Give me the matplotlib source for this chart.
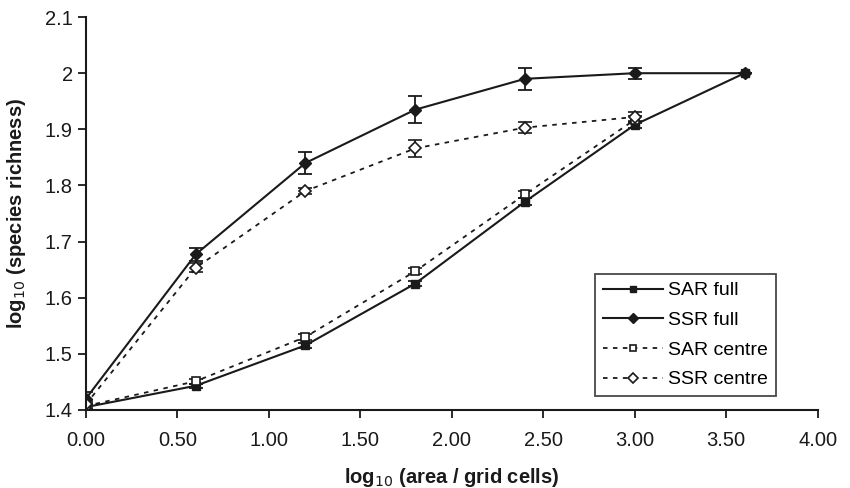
import numpy as np
import matplotlib.pyplot as plt
from matplotlib.ticker import FuncFormatter

plt.rcParams['font.family'] = ['Liberation Sans', 'DejaVu Sans']

# data
x_full = [0.0, 0.6, 1.2, 1.8, 2.4, 3.0, 3.6]
x_centre = [0.0, 0.6, 1.2, 1.8, 2.4, 3.0]

sar_full = [1.405, 1.443, 1.515, 1.625, 1.771, 1.908, 2.0]
sar_full_err = [0.006, 0.004, 0.005, 0.004, 0.006, 0.005, 0.0]
ssr_full = [1.420, 1.677, 1.840, 1.935, 1.990, 2.000, 2.000]
ssr_full_err = [0.012, 0.011, 0.019, 0.024, 0.020, 0.010, 0.0]

sar_centre = [1.407, 1.451, 1.530, 1.647, 1.784, 1.917]
sar_centre_err = [0.005, 0.004, 0.005, 0.005, 0.006, 0.006]
ssr_centre = [1.410, 1.653, 1.790, 1.866, 1.903, 1.922]
ssr_centre_err = [0.006, 0.008, 0.005, 0.015, 0.010, 0.008]

fig = plt.figure(figsize=(8.5, 4.88), dpi=100)
ax = fig.add_axes([0.101, 0.16, 0.861, 0.805])

dots = (0, (2.5, 3))
ax.errorbar(x_full, sar_full, yerr=sar_full_err, color='#1a1a1a', lw=1.5, marker='s', ms=6,
            mfc='#1a1a1a', mec='#1a1a1a', capsize=5, elinewidth=1.3, capthick=1.3, label='SAR full')
ax.errorbar(x_full, ssr_full, yerr=ssr_full_err, color='#1a1a1a', lw=1.5, marker='D', ms=6,
            mfc='#1a1a1a', mec='#1a1a1a', capsize=5, elinewidth=1.3, capthick=1.3, label='SSR full')
ax.errorbar(x_centre, sar_centre, yerr=sar_centre_err, color='#1a1a1a', lw=1.3, ls=dots, marker='s', ms=6,
            mfc='white', mec='#1a1a1a', mew=1.2, capsize=5, elinewidth=1.3, capthick=1.3, label='SAR centre')
ax.errorbar(x_centre, ssr_centre, yerr=ssr_centre_err, color='#1a1a1a', lw=1.3, ls=dots, marker='D', ms=6,
            mfc='white', mec='#1a1a1a', mew=1.2, capsize=5, elinewidth=1.3, capthick=1.3, label='SSR centre')

ax.set_xlim(0, 4)
ax.set_ylim(1.4, 2.1)
ax.set_xticks(np.arange(0, 4.01, 0.5))
ax.set_yticks(np.arange(1.4, 2.101, 0.1))
ax.xaxis.set_major_formatter(FuncFormatter(lambda v, p: '%.2f' % v))
ax.yaxis.set_major_formatter(FuncFormatter(lambda v, p: ('%.1f' % v).rstrip('0').rstrip('.')))
ax.tick_params(labelsize=14.5, width=1.3, length=6, color='#1a1a1a', labelcolor='#1a1a1a')
ax.tick_params(axis='x', pad=9)
for s in ['top', 'right']:
    ax.spines[s].set_visible(False)
for s in ['left', 'bottom']:
    ax.spines[s].set_linewidth(1.5)
    ax.spines[s].set_color('#1a1a1a')
ax.spines['left'].set_zorder(5)

ax.set_xlabel('log$_{10}$ (area / grid cells)', fontsize=14.5, fontweight='bold', labelpad=12, color='#1a1a1a')
ax.set_ylabel('log$_{10}$ (species richness)', fontsize=14.5, fontweight='bold', labelpad=12, color='#1a1a1a')

handles, labels = ax.get_legend_handles_labels()
handles = [h[0] for h in handles]
leg = ax.legend(handles, labels, loc='lower right', bbox_to_anchor=(0.943, 0.035), fontsize=14,
                frameon=True, fancybox=False, edgecolor='#1a1a1a', handlelength=3.1,
                borderpad=0.4, labelspacing=0.62, handletextpad=0.25, borderaxespad=0)
leg.get_frame().set_linewidth(1.3)
for h in leg.legend_handles:
    h.set_markersize(5)

fig.savefig('out.png', dpi=100)
